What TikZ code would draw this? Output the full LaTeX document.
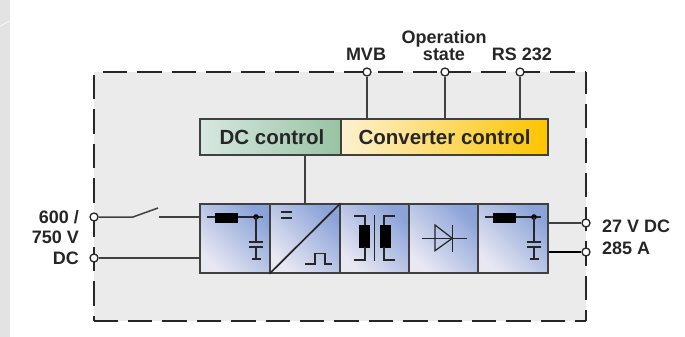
\documentclass[tikz,border=0pt]{standalone}
\usepackage{fontspec}
\setmainfont{Liberation Sans}
\tikzset{
  lbl/.style={font=\fontsize{18}{17}\selectfont\bfseries,align=center,inner sep=0pt,text=black!85},
  ctrllbl/.style={font=\fontsize{20.5}{22}\selectfont\bfseries,inner sep=0pt,text=black!85},
  term/.style={circle,draw=black!85,fill=white,line width=1.3pt,inner sep=0pt,minimum size=8pt},
  blockbox/.style={draw=black!75,line width=1.7pt,minimum width=69.5pt,minimum height=69pt,inner sep=0pt,
    shade,shading=axis,left color=blockdark,right color=blocklight,shading angle=-45},
  ctrlbox/.style={draw=black!75,line width=1.5pt,minimum height=36pt,inner sep=0pt,shade,shading=axis},
  wire/.style={draw=black!75,line width=1.5pt},
  sym/.style={draw=black!85,line width=1.2pt},
  coil/.style={fill=black,draw=black},
  frameline/.style={black!85,line width=2pt,dash pattern=on 24.4pt off 10pt}
}
\definecolor{blockdark}{HTML}{8CA3D9}
\definecolor{blocklight}{HTML}{E8E8F2}
\definecolor{dcleft}{HTML}{D6E8E2}
\definecolor{dcright}{HTML}{98C3A2}
\definecolor{convleft}{HTML}{FDF1D0}
\definecolor{convright}{HTML}{FDC400}
\begin{document}
\begin{tikzpicture}[x=1pt,y=-1pt]
  \useasboundingbox (0,0) rectangle (685,337);
  % housing
  \path[fill=black!11] (0,0) rectangle (10,337);
  \draw[white,line width=.6pt] (0,26) -- (10,21);
  \path[fill=black!8] (94,72) rectangle (586,321);
  \draw[frameline] (103,72) -- (586,72);
  \draw[frameline] (94,75) -- (94,321);
  \draw[frameline] (93.6,321) -- (586,321);
  \draw[frameline,dash phase=2.6pt] (586,72) -- (586,321);
  % control
  \node[ctrlbox,minimum width=141pt,left color=dcleft,right color=dcright] (dcctrl) at (270.5,137) {};
  \node[ctrlbox,minimum width=207pt,left color=convleft,right color=convright] (convctrl) at (444.5,137) {};
  \node[ctrllbl] (dctext) at (272,137) {DC control};
  \node[ctrllbl] (convtext) at (convctrl) {Converter control};
  % power blocks
  \foreach \name/\x in {filterA/235,chopper/305,trafo/374.5,rectifier/443.5,filterB/513} {
    \node[blockbox] (\name) at (\x,238.5) {};
  }
  % terminals
  \foreach \name/\x/\y in {mvb/367/72,opstate/445/72,rsport/520/72,dcplus/94/217,dcminus/94/258,outplus/586/223,outminus/586/252} {
    \node[term] (\name) at (\x,\y) {};
  }
  \node[lbl] (mvblbl) at (366,54) {MVB};
  \node[lbl] (oplbl) at (444,46) {Operation\\state};
  \node[lbl] (rslbl) at (522,54) {RS 232};
  \node[lbl,align=right,anchor=east,font=\fontsize{18}{20.5}\selectfont\bfseries] (inlbl) at (79,237.5) {600 /\\750 V\\DC};
  \node[lbl,anchor=west] (outlblA) at (602,226) {27 V DC};
  \node[lbl,anchor=west] (outlblB) at (602,248) {285 A};
  % connectors
  \coordinate (swA) at (133,217);
  \coordinate (swB) at (158,208);
  \coordinate (swC) at (159,217);
  \draw[wire] (mvb) -- (mvb |- convctrl.north);
  \draw[wire] (opstate) -- (opstate |- convctrl.north);
  \draw[wire] (rsport) -- (rsport |- convctrl.north);
  \draw[wire] (dcctrl.south -| chopper) -- (chopper.north);
  \draw[wire] (dcplus) -- (swA) -- (swB);
  \draw[wire] (swC) -- (swC -| filterA.west);
  \draw[wire] (dcminus) -- (dcminus -| filterA.west);
  \draw[wire] (outplus) -- (outplus -| filterB.east);
  \draw[wire,line width=2.2pt,black] (outminus) -- (outminus -| filterB.east);
  % filters
  \foreach \x in {0,278} {
    \begin{scope}[xshift=\x pt]
      \draw[sym] (207,217) -- (263,217);
      \path[coil] (215,213) rectangle (237,222);
      \path[fill=black] (256,217) circle (2.8);
      \draw[sym] (256,217) -- (256,242) (256,247) -- (256,259);
      \draw[sym,line width=1.4pt] (249,242) -- (263,242) (249,247) -- (263,247) (252,259) -- (261,259);
    \end{scope}
  }
  % chopper
  \draw[black!85,line width=1.7pt] (chopper.south west) -- (chopper.north east);
  \draw[sym,line width=1.6pt] (281,212) -- (292,212) (281,218) -- (292,218);
  \draw[sym] (305,264) -- (315,264) -- (315,253.5) -- (325,253.5) -- (325,264) -- (332,264);
  % transformer
  \draw[sym] (374.3,215) -- (374.3,261);
  \path[coil] (359,225) rectangle (369.3,247);
  \path[coil] (380,225) rectangle (390,247);
  \draw[sym] (354,216) -- (365,216) -- (365,225) (365,247) -- (365,260) -- (354,260);
  \draw[sym] (395,216) -- (384,216) -- (384,225) (384,247) -- (384,260) -- (395,260);
  % diode
  \draw[sym,line width=.9pt] (421.7,238.3) -- (467.3,238.3);
  \draw[sym] (435,225) -- (435,250.7) -- (452.3,238.3) -- cycle;
  \draw[sym] (452.3,225) -- (452.3,252);
\end{tikzpicture}
\end{document}
